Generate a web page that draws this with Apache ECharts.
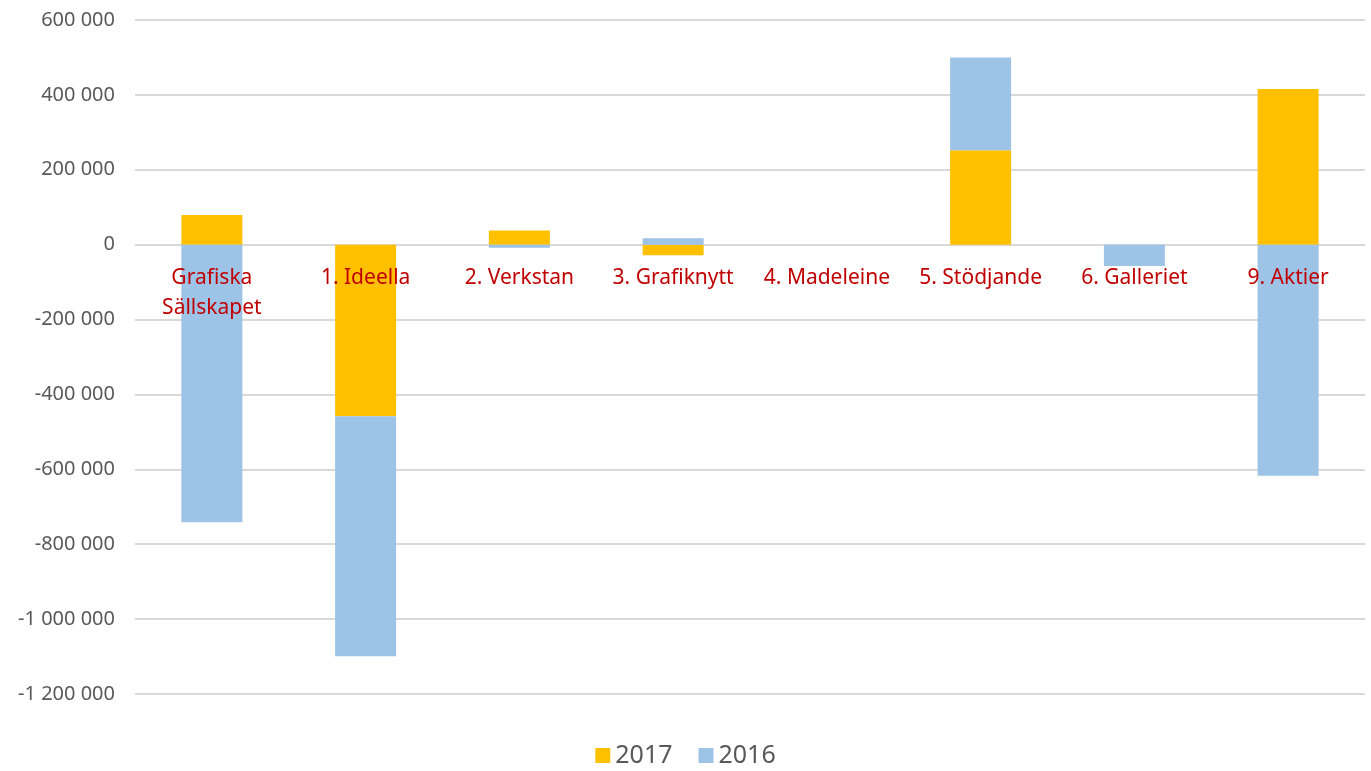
<!DOCTYPE html>
<html>
<head>
<meta charset="utf-8">
<script src="https://cdn.jsdelivr.net/npm/echarts@6/dist/echarts.min.js"></script>
<style>
  html, body { margin: 0; padding: 0; background: #fff; }
  #chart { width: 1371px; height: 771px; }
</style>
</head>
<body>
<div id="chart"></div>
<script>
// kategorier och värden
var categories = ["Grafiska\nSällskapet", "1. Ideella", "2. Verkstan", "3. Grafiknytt", "4. Madeleine", "5. Stödjande", "6. Galleriet", "9. Aktier"];
var values2017 = [79000, -458000, 38000, -28000, 0, 252000, 0, 416000];
var values2016 = [-741000, -641000, -8000, 17000, 0, 248000, -57000, -617000];

var yMin = -1200000;
var yMax = 600000;
var yStep = 200000;

function fmt(v) {
  var s = String(Math.abs(v)).replace(/\B(?=(\d{3})+(?!\d))/g, " ");
  return (v < 0 ? "-" : "") + s;
}

var chart = echarts.init(document.getElementById("chart"));
chart.setOption({
  animation: false,
  textStyle: { fontFamily: "Noto Sans" },
  color: ["#FFC000", "#9DC3E6"],
  grid: { left: 135, right: 6, top: 20, bottom: 77 },
  legend: {
    data: ["2017", "2016"],
    top: 738,
    left: "center",
    icon: "rect",
    itemWidth: 15,
    itemHeight: 15,
    itemGap: 26,
    textStyle: { fontSize: 25, color: "#595959" }
  },
  xAxis: {
    type: "category",
    data: categories,
    z: 10,
    axisLine: { show: false },
    axisTick: { show: false },
    axisLabel: {
      interval: 0,
      margin: 18,
      fontSize: 21,
      lineHeight: 30,
      color: "#C00000"
    }
  },
  yAxis: {
    type: "value",
    min: yMin,
    max: yMax,
    interval: yStep,
    axisLine: { show: false },
    axisTick: { show: false },
    axisLabel: {
      fontSize: 20,
      color: "#595959",
      margin: 20,
      formatter: fmt
    },
    splitLine: { lineStyle: { color: "#D9D9D9", width: 2 } }
  },
  series: [
    {
      name: "2017",
      type: "bar",
      stack: "total",
      barWidth: 61,
      data: values2017
    },
    {
      name: "2016",
      type: "bar",
      stack: "total",
      barWidth: 61,
      data: values2016
    }
  ]
});

// flytta kategoriaxeln (med etiketter) upp till nollinjen
var zeroY = chart.convertToPixel({ yAxisIndex: 0 }, 0);
var bottomY = chart.convertToPixel({ yAxisIndex: 0 }, yMin);
chart.setOption({ xAxis: { offset: zeroY - bottomY } });
</script>
</body>
</html>
